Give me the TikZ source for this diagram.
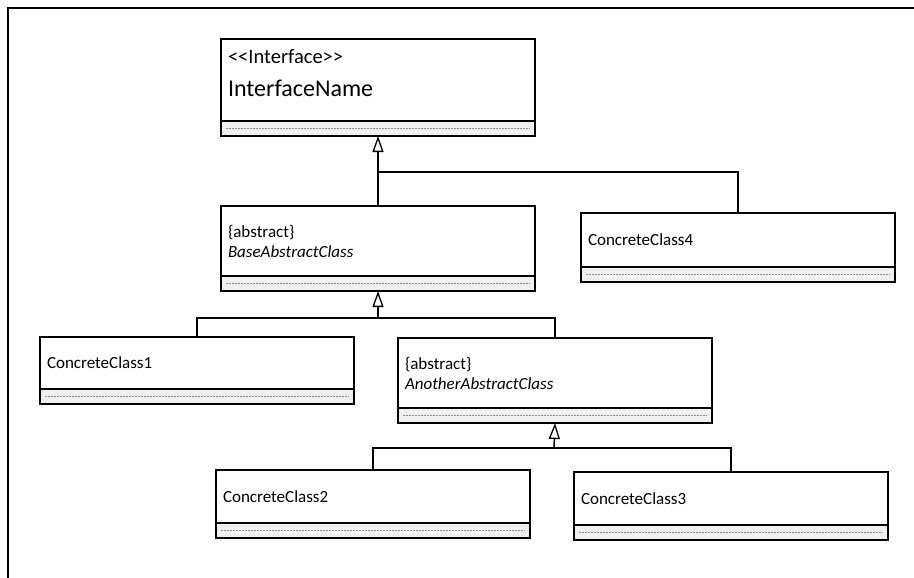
\documentclass[tikz,border=0pt]{standalone}
\usepackage{fontspec}
\setmainfont{Carlito}
\usetikzlibrary{arrows.meta,shadows}

\begin{document}
\begin{tikzpicture}[
  x=1pt, y=-1pt,
  every node/.style={inner sep=0pt, outer sep=0pt},
  clsbox/.style={draw=black, line width=1.3pt, fill=white, anchor=north west,
    minimum width=314pt, text width=300pt, inner xsep=7pt, minimum height=#1pt,
    align=left, font=\fontsize{17}{20}\selectfont,
    drop shadow={shadow xshift=1.2pt, shadow yshift=-1.2pt, fill=black!30, opacity=1}},
  opsbox/.style={draw=black, line width=1.3pt, fill=black!6, anchor=north west,
    minimum width=314pt, minimum height=15pt,
    drop shadow={shadow xshift=1.2pt, shadow yshift=-1.2pt, fill=black!30, opacity=1},
    path picture={\draw[black!45, line width=0.7pt, dash pattern=on 2pt off 1pt]
      ([xshift=5pt]path picture bounding box.west) --
      ([xshift=-5pt]path picture bounding box.east);}},
  boxtext/.style={anchor=base west, font=\fontsize{#1}{#1}\selectfont},
  link/.style={draw=black, line width=1.5pt},
  gen/.style={link, -{Triangle[open, length=16pt, width=11pt, line width=1.3pt]}},
]
\useasboundingbox (0,0) rectangle (914,578);

% frame along the top and left
\draw[line width=1.5pt] (8,578) -- (8,8) -- (914,8);

% interface
\node[clsbox=82] (ifc) at (221,39) {};
\node[boxtext=20.5] (ifcstereo) at (228,64) {<\kern0pt<Interface>\kern0pt>};
\node[boxtext=24] (ifcname) at (228,97) {InterfaceName};
\node[opsbox] (ifcops) at (ifc.south west) {};

% abstract base
\node[clsbox=70] (base) at (221,206) {\{abstract\}\\ \textit{BaseAbstractClass}};
\node[opsbox] (baseops) at (base.south west) {};

% concrete class 4
\node[clsbox=54] (cc4) at (581,213) {ConcreteClass4};
\node[opsbox] (cc4ops) at (cc4.south west) {};

% concrete class 1
\node[clsbox=52] (cc1) at (40,337) {ConcreteClass1};
\node[opsbox] (cc1ops) at (cc1.south west) {};

% second abstract class
\node[clsbox=70] (other) at (398,338) {\{abstract\}\\ \textit{AnotherAbstractClass}};
\node[opsbox] (otherops) at (other.south west) {};

% concrete classes 2 and 3
\node[clsbox=53] (cc2) at (216,470) {ConcreteClass2};
\node[opsbox] (cc2ops) at (cc2.south west) {};
\node[clsbox=53] (cc3) at (574,472) {ConcreteClass3};
\node[opsbox] (cc3ops) at (cc3.south west) {};

% junction points of the generalization trees
\coordinate (j0) at (378,172);
\coordinate (j1) at (378,318);
\coordinate (j2) at (554,448);

% generalizations
\draw[gen] (base.north) -- (ifcops.south);
\draw[link] (cc4.north) |- (j0);

\draw[gen] (j1) -- (baseops.south);
\draw[link] (cc1.north) |- (j1);
\draw[link] (other.north) |- (j1);

\draw[gen] (j2) -- (otherops.south);
\draw[link] (cc2.north) |- (j2);
\draw[link] (cc3.north) |- (j2);
\end{tikzpicture}
\end{document}
